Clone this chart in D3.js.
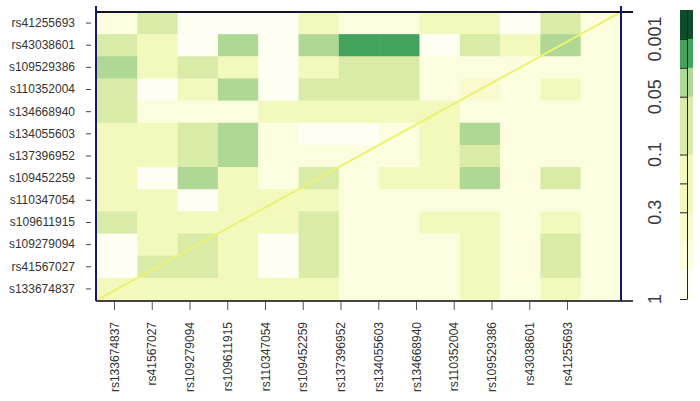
<!DOCTYPE html>
<html>
<head>
<meta charset="utf-8">
<script src="https://cdn.jsdelivr.net/npm/d3@7"></script>
<style>
  body { margin: 0; background: #fff; }
  svg { display: block; font-family: "Liberation Sans", Arial, sans-serif; }
</style>
</head>
<body>
<div id="chart"></div>
<script>
// row labels, top to bottom (as printed, first letter clipped on most)
const rowLabels = ["rs41255693", "rs43038601", "s109529386", "s110352004", "s134668940",
  "s134055603", "s137396952", "s109452259", "s110347054", "s109611915",
  "s109279094", "rs41567027", "s133674837"];

// column labels, left to right
const colLabels = ["rs133674837", "rs41567027", "rs109279094", "rs109611915", "rs110347054",
  "rs109452259", "rs137396952", "rs134055603", "rs134668940", "rs110352004",
  "rs109529386", "rs43038601", "rs41255693"];

// p-values, one array per row (top to bottom)
const pValues = [
  [0.6, 0.07, 0.9, 0.9, 0.9, 0.15, 0.6, 0.6, 0.15, 0.15, 0.9, 0.07, 0.6],
  [0.07, 0.15, 0.9, 0.03, 0.9, 0.03, 0.005, 0.005, 0.9, 0.07, 0.15, 0.03, 0.6],
  [0.03, 0.15, 0.07, 0.15, 0.9, 0.15, 0.07, 0.07, 0.6, 0.6, 0.6, 0.6, 0.6],
  [0.07, 0.9, 0.15, 0.03, 0.9, 0.07, 0.07, 0.07, 0.6, 0.4, 0.6, 0.15, 0.6],
  [0.07, 0.6, 0.6, 0.6, 0.15, 0.15, 0.15, 0.15, 0.15, 0.6, 0.6, 0.6, 0.6],
  [0.15, 0.15, 0.07, 0.03, 0.6, 0.9, 0.9, 0.6, 0.15, 0.03, 0.6, 0.6, 0.6],
  [0.15, 0.15, 0.07, 0.03, 0.6, 0.6, 0.6, 0.6, 0.15, 0.07, 0.6, 0.6, 0.6],
  [0.15, 0.9, 0.03, 0.15, 0.6, 0.07, 0.6, 0.15, 0.15, 0.03, 0.6, 0.07, 0.6],
  [0.15, 0.15, 0.9, 0.15, 0.15, 0.15, 0.6, 0.6, 0.6, 0.6, 0.6, 0.6, 0.6],
  [0.07, 0.15, 0.15, 0.15, 0.15, 0.07, 0.6, 0.6, 0.15, 0.15, 0.6, 0.15, 0.6],
  [0.9, 0.15, 0.07, 0.15, 0.9, 0.07, 0.6, 0.6, 0.6, 0.15, 0.6, 0.07, 0.6],
  [0.9, 0.07, 0.07, 0.15, 0.9, 0.07, 0.6, 0.6, 0.6, 0.15, 0.6, 0.07, 0.6],
  [0.15, 0.15, 0.15, 0.15, 0.15, 0.15, 0.6, 0.6, 0.6, 0.15, 0.6, 0.15, 0.6]
];

// colour key breaks and the colours between them
const colorBreaks = [0, 0.001, 0.01, 0.05, 0.075, 0.1, 0.2, 0.3, 0.5, 0.75, 1];
const colorSteps = ["#0d4d2b", "#43a35c", "#aed893", "#d8eba7", "#d8eba7",
  "#f3f8bc", "#f3f8bc", "#f9fbcf", "#fcfdde", "#fefef2"];
const colorTicks = [0.001, 0.01, 0.05, 0.1, 0.2, 0.3, 1];
const colorTickLabels = ["0.001", "", "0.05", "0.1", "", "0.3", "1"];

const width = 700, height = 401;
const plot = {left: 97, right: 621, top: 12, bottom: 300};

const svg = d3.select("#chart")
  .append("svg")
    .attr("width", width)
    .attr("height", height);

const x = d3.scaleBand()
  .domain(colLabels)
  .range([plot.left, plot.right]);

const y = d3.scaleBand()
  .domain(rowLabels)
  .range([plot.top, plot.bottom]);

// bottom ticks in the original sit on their own spacing, not on the cells
const xTick = d3.scalePoint()
  .domain(colLabels)
  .range([114, 567]);

const color = d3.scaleThreshold()
  .domain(colorBreaks.slice(1, -1))
  .range(colorSteps);

// cells
const cells = [];
pValues.forEach((row, i) => row.forEach((p, j) => cells.push({row: rowLabels[i], col: colLabels[j], p: p})));

svg.append("g")
  .selectAll("rect")
  .data(cells)
  .join("rect")
    .attr("x", d => x(d.col))
    .attr("y", d => y(d.row))
    .attr("width", x.bandwidth() + 0.5)
    .attr("height", y.bandwidth() + 0.5)
    .attr("fill", d => color(d.p));

// diagonal
svg.append("line")
  .attr("x1", plot.left).attr("y1", plot.bottom)
  .attr("x2", plot.right).attr("y2", plot.top)
  .attr("stroke", "#eef272")
  .attr("stroke-width", 2);

// frame
svg.append("line").attr("x1", 96).attr("x2", 633).attr("y1", plot.top).attr("y2", plot.top)
  .attr("stroke", "#14142e").attr("stroke-width", 2);
svg.append("line").attr("x1", 96).attr("x2", 633).attr("y1", plot.bottom + 1).attr("y2", plot.bottom + 1)
  .attr("stroke", "#444").attr("stroke-width", 2);
svg.append("line").attr("x1", 96).attr("x2", 96).attr("y1", 6).attr("y2", plot.bottom + 1)
  .attr("stroke", "#16166a").attr("stroke-width", 2);
svg.append("line").attr("x1", plot.right).attr("x2", plot.right).attr("y1", 6).attr("y2", plot.bottom + 1)
  .attr("stroke", "#16166a").attr("stroke-width", 2);

// left axis
const yAxis = svg.append("g")
  .attr("transform", "translate(91,0)")
  .call(d3.axisLeft(y).tickSize(5).tickSizeOuter(0).tickPadding(11));
yAxis.select(".domain").remove();
yAxis.selectAll("line").attr("stroke", "#444");
yAxis.selectAll("text")
  .style("font-size", "12px")
  .attr("fill", "#333")
  .attr("font-family", null);

// bottom axis
const xAxis = svg.append("g")
  .attr("transform", `translate(0,${plot.bottom + 2})`)
  .call(d3.axisBottom(xTick).tickSize(8).tickSizeOuter(0));
xAxis.select(".domain").remove();
xAxis.selectAll("line").attr("stroke", "#555");
xAxis.selectAll("text")
  .attr("transform", "rotate(-90)")
  .attr("x", -20)
  .attr("y", 0)
  .attr("dy", "0.35em")
  .style("text-anchor", "end")
  .style("font-size", "12px")
  .attr("fill", "#333")
  .attr("font-family", null);

// colour key
const yKey = d3.scalePoint()
  .domain(colorBreaks)
  .range([10, 299]);

svg.append("g")
  .selectAll("rect")
  .data(colorSteps)
  .join("rect")
    .attr("x", 680)
    .attr("width", 13)
    .attr("y", (d, i) => yKey(colorBreaks[i]))
    .attr("height", (d, i) => yKey(colorBreaks[i + 1]) - yKey(colorBreaks[i]) + 0.5)
    .attr("fill", d => d);

const keyAxis = svg.append("g")
  .attr("transform", "translate(687,0)")
  .call(d3.axisLeft(yKey).tickValues(colorTicks).tickSize(7).tickSizeOuter(0).tickFormat(""));
keyAxis.select(".domain").attr("stroke", "#222");
keyAxis.selectAll("line").attr("stroke", "#222");

svg.append("g")
  .selectAll("text")
  .data(colorTicks)
  .join("text")
    .attr("transform", d => `translate(661,${yKey(d)})rotate(-90)`)
    .attr("text-anchor", "middle")
    .style("font-size", "18px")
    .attr("fill", "#3a3a3a")
    .text((d, i) => colorTickLabels[i]);
</script>
</body>
</html>
